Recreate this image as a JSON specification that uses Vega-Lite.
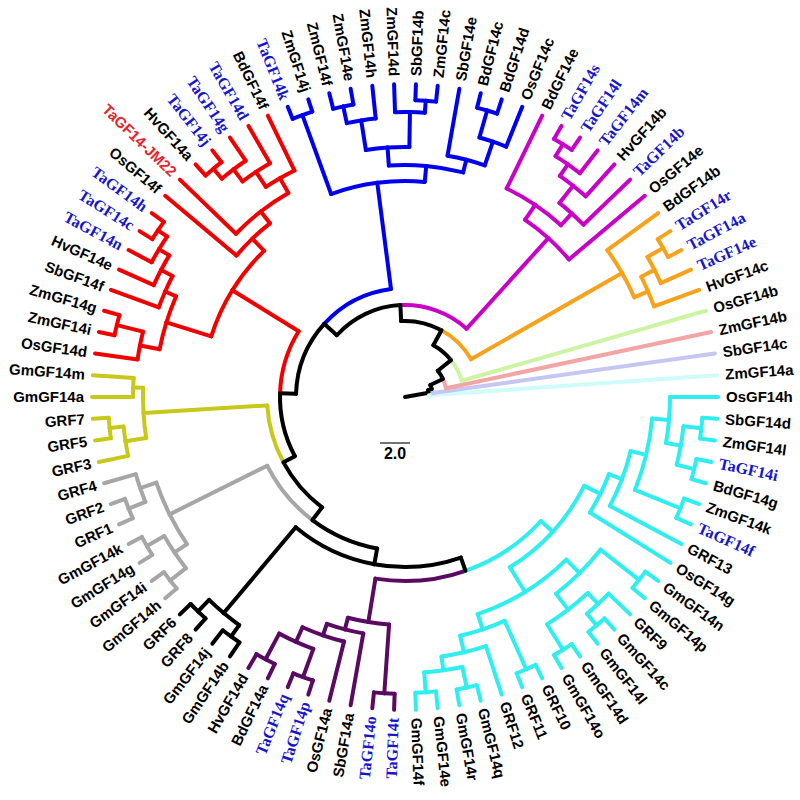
{
 "$schema": "https://vega.github.io/schema/vega-lite/v6.json",
 "width": 790,
 "height": 794,
 "autosize": {"type": "none"},
 "padding": {"left": 10, "top": 0, "right": 0, "bottom": 6},
 "background": "white",
 "config": {"view": {"stroke": null}},
 "datasets": {
  "tree": [
   {"t":79.67,"r":24,"pt":79.67,"pr":0,"c":"K"},
   {"t":73.34,"r":28,"pt":79.67,"pr":24,"c":"K"},
   {"t":64.67,"r":42,"pt":73.34,"pr":28,"c":"K"},
   {"t":51.34,"r":59,"pt":64.67,"pr":42,"c":"K"},
   {"t":28.69,"r":76,"pt":51.34,"pr":59,"c":"K"},
   {"t":-2.88,"r":92,"pt":28.69,"pr":76,"c":"K"},
   {"t":-47.83,"r":109,"pt":-2.88,"pr":92,"c":"K"},
   {"t":-88.28,"r":125,"pt":-47.83,"pr":109,"c":"K"},
   {"t":241.73,"r":138,"pt":271.72,"pr":125,"c":"K"},
   {"t":216.95,"r":154,"pt":241.73,"pr":138,"c":"K"},
   {"t":190.41,"r":170,"pt":216.95,"pr":154,"c":"K"},
   {"t":160.81,"r":184,"pt":190.41,"pr":170,"c":"K"},

   {"n":"ZmGF14a","lab":"k","t":86,"r":313,"pt":79.67,"pr":24,"c":"LC"},
   {"n":"SbGF14c","lab":"k","t":82,"r":313,"pt":73.34,"pr":28,"c":"L"},
   {"n":"ZmGF14b","lab":"k","t":78,"r":313,"pt":64.67,"pr":42,"c":"P"},
   {"n":"OsGF14b","lab":"k","t":74,"r":313,"pt":51.34,"pr":59,"c":"G"},

   {"t":60.25,"r":250,"pt":28.69,"pr":76,"c":"O"},
   {"n":"BdGF14b","lab":"k","t":54,"r":313,"pt":60.25,"pr":250,"c":"O"},
   {"t":66.5,"r":265,"pt":60.25,"pr":250,"c":"O"},
   {"n":"HvGF14c","lab":"k","t":70,"r":313,"pt":66.5,"pr":265,"c":"O"},
   {"t":63,"r":280,"pt":66.5,"pr":265,"c":"O"},
   {"n":"TaGF14e","lab":"b","t":66,"r":313,"pt":63,"pr":280,"c":"O"},
   {"t":60,"r":298,"pt":63,"pr":280,"c":"O"},
   {"n":"TaGF14r","lab":"b","t":58,"r":313,"pt":60,"pr":298,"c":"O"},
   {"n":"TaGF14a","lab":"b","t":62,"r":313,"pt":60,"pr":298,"c":"O"},

   {"t":42.06,"r":214,"pt":-2.88,"pr":92,"c":"M"},
   {"n":"OsGF14e","lab":"k","t":50,"r":313,"pt":42.06,"pr":214,"c":"M"},
   {"t":34.13,"r":232,"pt":42.06,"pr":214,"c":"M"},
   {"n":"BdGF14e","lab":"k","t":26,"r":313,"pt":34.13,"pr":232,"c":"M"},
   {"t":42.25,"r":248,"pt":34.13,"pr":232,"c":"M"},
   {"n":"TaGF14b","lab":"b","t":46,"r":313,"pt":42.25,"pr":248,"c":"M"},
   {"t":38.5,"r":270,"pt":42.25,"pr":248,"c":"M"},
   {"n":"HvGF14b","lab":"k","t":42,"r":313,"pt":38.5,"pr":270,"c":"M"},
   {"t":35,"r":284,"pt":38.5,"pr":270,"c":"M"},
   {"n":"TaGF14m","lab":"b","t":38,"r":313,"pt":35,"pr":284,"c":"M"},
   {"t":32,"r":298,"pt":35,"pr":284,"c":"M"},
   {"n":"TaGF14s","lab":"b","t":30,"r":313,"pt":32,"pr":298,"c":"M"},
   {"n":"TaGF14l","lab":"b","t":34,"r":313,"pt":32,"pr":298,"c":"M"},

   {"t":-7.375,"r":216,"pt":-47.83,"pr":109,"c":"B"},
   {"t":-20,"r":300,"pt":-7.375,"pr":216,"c":"B"},
   {"n":"TaGF14k","lab":"b","t":-22,"r":313,"pt":-20,"pr":300,"c":"B"},
   {"n":"ZmGF14j","lab":"k","t":-18,"r":313,"pt":-20,"pr":300,"c":"B"},
   {"t":5.25,"r":232,"pt":-7.375,"pr":216,"c":"B"},
   {"t":-4,"r":250,"pt":5.25,"pr":232,"c":"B"},
   {"t":-9,"r":280,"pt":-4,"pr":250,"c":"B"},
   {"n":"ZmGF14h","lab":"k","t":-6,"r":313,"pt":-9,"pr":280,"c":"B"},
   {"t":-12,"r":297,"pt":-9,"pr":280,"c":"B"},
   {"n":"ZmGF14f","lab":"k","t":-14,"r":313,"pt":-12,"pr":297,"c":"B"},
   {"n":"ZmGF14e","lab":"k","t":-10,"r":313,"pt":-12,"pr":297,"c":"B"},
   {"t":1,"r":285,"pt":-4,"pr":250,"c":"B"},
   {"n":"ZmGF14d","lab":"k","t":-2,"r":313,"pt":1,"pr":285,"c":"B"},
   {"t":4,"r":297,"pt":1,"pr":285,"c":"B"},
   {"n":"SbGF14b","lab":"k","t":2,"r":313,"pt":4,"pr":297,"c":"B"},
   {"n":"ZmGF14c","lab":"k","t":6,"r":313,"pt":4,"pr":297,"c":"B"},
   {"t":14.5,"r":245,"pt":5.25,"pr":232,"c":"B"},
   {"n":"SbGF14e","lab":"k","t":10,"r":313,"pt":14.5,"pr":245,"c":"B"},
   {"t":19,"r":270,"pt":14.5,"pr":245,"c":"B"},
   {"n":"OsGF14c","lab":"k","t":22,"r":313,"pt":19,"pr":270,"c":"B"},
   {"t":16,"r":298,"pt":19,"pr":270,"c":"B"},
   {"n":"BdGF14c","lab":"k","t":14,"r":313,"pt":16,"pr":298,"c":"B"},
   {"n":"BdGF14d","lab":"k","t":18,"r":313,"pt":16,"pr":298,"c":"B"},

   {"t":301.72,"r":203,"pt":271.72,"pr":125,"c":"R"},
   {"t":287.38,"r":250,"pt":301.72,"pr":203,"c":"R"},
   {"t":281,"r":270,"pt":287.38,"pr":250,"c":"R"},
   {"n":"OsGF14d","lab":"k","t":278,"r":313,"pt":281,"pr":270,"c":"R"},
   {"t":284,"r":297,"pt":281,"pr":270,"c":"R"},
   {"n":"ZmGF14i","lab":"k","t":282,"r":313,"pt":284,"pr":297,"c":"R"},
   {"n":"ZmGF14g","lab":"k","t":286,"r":313,"pt":284,"pr":297,"c":"R"},
   {"t":293.75,"r":262,"pt":287.38,"pr":250,"c":"R"},
   {"n":"SbGF14f","lab":"k","t":290,"r":313,"pt":293.75,"pr":262,"c":"R"},
   {"t":297.5,"r":275,"pt":293.75,"pr":262,"c":"R"},
   {"n":"HvGF14e","lab":"k","t":294,"r":313,"pt":297.5,"pr":275,"c":"R"},
   {"t":301,"r":287,"pt":297.5,"pr":275,"c":"R"},
   {"n":"TaGF14n","lab":"b","t":298,"r":313,"pt":301,"pr":287,"c":"R"},
   {"t":304,"r":298,"pt":301,"pr":287,"c":"R"},
   {"n":"TaGF14c","lab":"b","t":302,"r":313,"pt":304,"pr":298,"c":"R"},
   {"n":"TaGF14h","lab":"b","t":306,"r":313,"pt":304,"pr":298,"c":"R"},
   {"t":316.06,"r":220,"pt":301.72,"pr":203,"c":"R"},
   {"n":"OsGF14f","lab":"k","t":310,"r":313,"pt":316.06,"pr":220,"c":"R"},
   {"t":322.13,"r":235,"pt":316.06,"pr":220,"c":"R"},
   {"n":"TaGF14-JM22","lab":"r","t":314,"r":313,"pt":322.13,"pr":235,"c":"R"},
   {"t":330.25,"r":252,"pt":322.13,"pr":235,"c":"R"},
   {"n":"BdGF14f","lab":"k","t":334,"r":313,"pt":330.25,"pr":252,"c":"R"},
   {"t":326.5,"r":270,"pt":330.25,"pr":252,"c":"R"},
   {"n":"TaGF14d","lab":"b","t":330,"r":313,"pt":326.5,"pr":270,"c":"R"},
   {"t":323,"r":285,"pt":326.5,"pr":270,"c":"R"},
   {"n":"TaGF14g","lab":"b","t":326,"r":313,"pt":323,"pr":285,"c":"R"},
   {"t":320,"r":298,"pt":323,"pr":285,"c":"R"},
   {"n":"HvGF14a","lab":"k","t":318,"r":313,"pt":320,"pr":298,"c":"R"},
   {"n":"TaGF14j","lab":"b","t":322,"r":313,"pt":320,"pr":298,"c":"R"},

   {"t":266.5,"r":262,"pt":241.73,"pr":138,"c":"Y"},
   {"t":261,"r":283,"pt":266.5,"pr":262,"c":"Y"},
   {"n":"GRF3","lab":"k","t":258,"r":313,"pt":261,"pr":283,"c":"Y"},
   {"t":264,"r":297,"pt":261,"pr":283,"c":"Y"},
   {"n":"GRF5","lab":"k","t":262,"r":313,"pt":264,"pr":297,"c":"Y"},
   {"n":"GRF7","lab":"k","t":266,"r":313,"pt":264,"pr":297,"c":"Y"},
   {"t":272,"r":272,"pt":266.5,"pr":262,"c":"Y"},
   {"n":"GmGF14a","lab":"k","t":270,"r":313,"pt":272,"pr":272,"c":"Y"},
   {"n":"GmGF14m","lab":"k","t":274,"r":313,"pt":272,"pr":272,"c":"Y"},

   {"t":243.5,"r":263,"pt":216.95,"pr":154,"c":"GR"},
   {"t":236,"r":278,"pt":243.5,"pr":263,"c":"GR"},
   {"t":232,"r":298,"pt":236,"pr":278,"c":"GR"},
   {"n":"GmGF14h","lab":"k","t":230,"r":313,"pt":232,"pr":298,"c":"GR"},
   {"n":"GmGF14i","lab":"k","t":234,"r":313,"pt":232,"pr":298,"c":"GR"},
   {"t":240,"r":298,"pt":236,"pr":278,"c":"GR"},
   {"n":"GmGF14g","lab":"k","t":238,"r":313,"pt":240,"pr":298,"c":"GR"},
   {"n":"GmGF14k","lab":"k","t":242,"r":313,"pt":240,"pr":298,"c":"GR"},
   {"t":251,"r":280,"pt":243.5,"pr":263,"c":"GR"},
   {"n":"GRF4","lab":"k","t":254,"r":313,"pt":251,"pr":280,"c":"GR"},
   {"t":248,"r":298,"pt":251,"pr":280,"c":"GR"},
   {"n":"GRF1","lab":"k","t":246,"r":313,"pt":248,"pr":298,"c":"GR"},
   {"n":"GRF2","lab":"k","t":250,"r":313,"pt":248,"pr":298,"c":"GR"},

   {"t":220,"r":282,"pt":190.41,"pr":170,"c":"K"},
   {"t":216,"r":296,"pt":220,"pr":282,"c":"K"},
   {"n":"GmGF14b","lab":"k","t":214,"r":313,"pt":216,"pr":296,"c":"K"},
   {"n":"GmGF14j","lab":"k","t":218,"r":313,"pt":216,"pr":296,"c":"K"},
   {"t":224,"r":298,"pt":220,"pr":282,"c":"K"},
   {"n":"GRF8","lab":"k","t":222,"r":313,"pt":224,"pr":298,"c":"K"},
   {"n":"GRF6","lab":"k","t":226,"r":313,"pt":224,"pr":298,"c":"K"},

   {"t":189.25,"r":228,"pt":160.81,"pr":184,"c":"PU"},
   {"t":184,"r":297,"pt":189.25,"pr":228,"c":"PU"},
   {"n":"TaGF14t","lab":"b","t":182,"r":313,"pt":184,"pr":297,"c":"PU"},
   {"n":"TaGF14o","lab":"b","t":186,"r":313,"pt":184,"pr":297,"c":"PU"},
   {"t":194.5,"r":240,"pt":189.25,"pr":228,"c":"PU"},
   {"n":"SbGF14a","lab":"k","t":190,"r":313,"pt":194.5,"pr":240,"c":"PU"},
   {"t":199,"r":252,"pt":194.5,"pr":240,"c":"PU"},
   {"n":"OsGF14a","lab":"k","t":194,"r":313,"pt":199,"pr":252,"c":"PU"},
   {"t":204,"r":268,"pt":199,"pr":252,"c":"PU"},
   {"t":200,"r":298,"pt":204,"pr":268,"c":"PU"},
   {"n":"TaGF14p","lab":"b","t":198,"r":313,"pt":200,"pr":298,"c":"PU"},
   {"n":"TaGF14q","lab":"b","t":202,"r":313,"pt":200,"pr":298,"c":"PU"},
   {"t":208,"r":297,"pt":204,"pr":268,"c":"PU"},
   {"n":"BdGF14a","lab":"k","t":206,"r":313,"pt":208,"pr":297,"c":"PU"},
   {"n":"HvGF14d","lab":"k","t":210,"r":313,"pt":208,"pr":297,"c":"PU"},

   {"t":132.38,"r":200,"pt":160.81,"pr":184,"c":"C"},
   {"t":116.38,"r":218,"pt":132.38,"pr":200,"c":"C"},
   {"n":"OsGF14g","lab":"k","t":122,"r":313,"pt":116.38,"pr":218,"c":"C"},
   {"t":110.75,"r":232,"pt":116.38,"pr":218,"c":"C"},
   {"n":"GRF13","lab":"k","t":118,"r":313,"pt":110.75,"pr":232,"c":"C"},
   {"t":103.5,"r":248,"pt":110.75,"pr":232,"c":"C"},
   {"t":112,"r":297,"pt":103.5,"pr":248,"c":"C"},
   {"n":"ZmGF14k","lab":"k","t":110,"r":313,"pt":112,"pr":297,"c":"C"},
   {"n":"TaGF14f","lab":"b","t":114,"r":313,"pt":112,"pr":297,"c":"C"},
   {"t":95,"r":265,"pt":103.5,"pr":248,"c":"C"},
   {"n":"OsGF14h","lab":"k","t":90,"r":313,"pt":95,"pr":265,"c":"C"},
   {"t":100,"r":280,"pt":95,"pr":265,"c":"C"},
   {"t":96,"r":298,"pt":100,"pr":280,"c":"C"},
   {"n":"SbGF14d","lab":"k","t":94,"r":313,"pt":96,"pr":298,"c":"C"},
   {"n":"ZmGF14l","lab":"k","t":98,"r":313,"pt":96,"pr":298,"c":"C"},
   {"t":104,"r":298,"pt":100,"pr":280,"c":"C"},
   {"n":"TaGF14i","lab":"b","t":102,"r":313,"pt":104,"pr":298,"c":"C"},
   {"n":"BdGF14g","lab":"k","t":106,"r":313,"pt":104,"pr":298,"c":"C"},
   {"t":148.38,"r":229,"pt":132.38,"pr":200,"c":"C"},
   {"t":135.25,"r":248,"pt":148.38,"pr":229,"c":"C"},
   {"t":128,"r":297,"pt":135.25,"pr":248,"c":"C"},
   {"n":"GmGF14n","lab":"k","t":126,"r":313,"pt":128,"pr":297,"c":"C"},
   {"n":"GmGF14p","lab":"k","t":130,"r":313,"pt":128,"pr":297,"c":"C"},
   {"t":142.5,"r":268,"pt":135.25,"pr":248,"c":"C"},
   {"t":137,"r":283,"pt":142.5,"pr":268,"c":"C"},
   {"n":"GRF9","lab":"k","t":134,"r":313,"pt":137,"pr":283,"c":"C"},
   {"t":140,"r":298,"pt":137,"pr":283,"c":"C"},
   {"n":"GmGF14c","lab":"k","t":138,"r":313,"pt":140,"pr":298,"c":"C"},
   {"n":"GmGF14l","lab":"k","t":142,"r":313,"pt":140,"pr":298,"c":"C"},
   {"t":148,"r":298,"pt":142.5,"pr":268,"c":"C"},
   {"n":"GmGF14d","lab":"k","t":146,"r":313,"pt":148,"pr":298,"c":"C"},
   {"n":"GmGF14o","lab":"k","t":150,"r":313,"pt":148,"pr":298,"c":"C"},
   {"t":161.5,"r":245,"pt":148.38,"pr":229,"c":"C"},
   {"t":156,"r":298,"pt":161.5,"pr":245,"c":"C"},
   {"n":"GRF10","lab":"k","t":154,"r":313,"pt":156,"pr":298,"c":"C"},
   {"n":"GRF11","lab":"k","t":158,"r":313,"pt":156,"pr":298,"c":"C"},
   {"t":167,"r":262,"pt":161.5,"pr":245,"c":"C"},
   {"n":"GRF12","lab":"k","t":162,"r":313,"pt":167,"pr":262,"c":"C"},
   {"t":172,"r":276,"pt":167,"pr":262,"c":"C"},
   {"t":168,"r":297,"pt":172,"pr":276,"c":"C"},
   {"n":"GmGF14q","lab":"k","t":166,"r":313,"pt":168,"pr":297,"c":"C"},
   {"n":"GmGF14r","lab":"k","t":170,"r":313,"pt":168,"pr":297,"c":"C"},
   {"t":176,"r":296,"pt":172,"pr":276,"c":"C"},
   {"n":"GmGF14e","lab":"k","t":174,"r":313,"pt":176,"pr":296,"c":"C"},
   {"n":"GmGF14f","lab":"k","t":178,"r":313,"pt":176,"pr":296,"c":"C"}
  ],
  "bar": [{"x1": -25, "x2": 5, "y": -46, "tx": -10, "ty": -57, "lab": "2.0"}]
 },
 "layer": [
  {
   "data": {"name": "tree"},
   "mark": {"type": "arc", "filled": false, "strokeWidth": 4, "strokeJoin": "round"},
   "encoding": {
    "theta": {"field": "pt", "type": "quantitative", "stack": null, "scale": {"type": "linear", "domain": [0, 360], "range": [0, 6.283185307179586]}},
    "theta2": {"field": "t"},
    "radius": {"field": "pr", "type": "quantitative", "stack": null, "scale": {"type": "linear", "domain": [0, 395], "range": [0, 395], "zero": true}},
    "radius2": {"field": "pr"},
    "stroke": {"field": "c", "type": "nominal", "legend": null,
     "scale": {"domain": ["K","B","M","O","G","P","L","LC","C","PU","GR","Y","R"],
               "range": ["#000000","#0000f0","#c800c8","#f7a21b","#cbf5a3","#f3a4a4","#c6c6f3","#cffbfb","#2eeef0","#5a0a60","#a6a6a6","#c8c81a","#f20000"]}}
   }
  },
  {
   "data": {"name": "tree"},
   "mark": {"type": "arc", "filled": false, "strokeWidth": 4, "strokeJoin": "round"},
   "encoding": {
    "theta": {"field": "t", "type": "quantitative", "stack": null},
    "theta2": {"field": "t"},
    "radius": {"field": "r", "type": "quantitative", "stack": null},
    "radius2": {"field": "pr"},
    "stroke": {"field": "c", "type": "nominal", "legend": null}
   }
  },
  {
   "data": {"name": "tree"},
   "transform": [{"filter": "isValid(datum.n) && datum.lab != 'b' && datum.t > 0 && datum.t < 180"}],
   "mark": {"type": "text", "align": "left", "baseline": "middle", "font": "Liberation Sans", "fontSize": 15, "fontWeight": "bold"},
   "encoding": {
    "theta": {"field": "t", "type": "quantitative", "stack": null},
    "radius": {"datum": 321},
    "text": {"field": "n"},
    "angle": {"field": "t", "type": "quantitative", "scale": {"domain": [0, 180], "range": [-90, 90]}},
    "color": {"field": "lab", "type": "nominal", "legend": null, "scale": {"domain": ["k", "r"], "range": ["#000000", "#e8232a"]}}
   }
  },
  {
   "data": {"name": "tree"},
   "transform": [{"filter": "isValid(datum.n) && datum.lab != 'b' && (datum.t < 0 || datum.t > 180)"}],
   "mark": {"type": "text", "align": "right", "baseline": "middle", "font": "Liberation Sans", "fontSize": 15, "fontWeight": "bold"},
   "encoding": {
    "theta": {"field": "t", "type": "quantitative", "stack": null},
    "radius": {"datum": 321},
    "text": {"field": "n"},
    "angle": {"field": "t", "type": "quantitative", "scale": {"domain": [180, 360], "range": [-90, 90]}},
    "color": {"field": "lab", "type": "nominal", "legend": null}
   }
  },
  {
   "data": {"name": "tree"},
   "transform": [{"filter": "datum.lab == 'b' && datum.t > 0 && datum.t < 180"}],
   "mark": {"type": "text", "align": "left", "baseline": "middle", "font": "Liberation Serif", "fontSize": 16, "fontWeight": "bold", "color": "#1616cc"},
   "encoding": {
    "theta": {"field": "t", "type": "quantitative", "stack": null},
    "radius": {"datum": 321},
    "text": {"field": "n"},
    "angle": {"field": "t", "type": "quantitative", "scale": {"domain": [0, 180], "range": [-90, 90]}}
   }
  },
  {
   "data": {"name": "tree"},
   "transform": [{"filter": "datum.lab == 'b' && (datum.t < 0 || datum.t > 180)"}],
   "mark": {"type": "text", "align": "right", "baseline": "middle", "font": "Liberation Serif", "fontSize": 16, "fontWeight": "bold", "color": "#1616cc"},
   "encoding": {
    "theta": {"field": "t", "type": "quantitative", "stack": null},
    "radius": {"datum": 321},
    "text": {"field": "n"},
    "angle": {"field": "t", "type": "quantitative", "scale": {"domain": [180, 360], "range": [-90, 90]}}
   }
  },
  {
   "data": {"name": "bar"},
   "mark": {"type": "rule", "strokeWidth": 1.5, "color": "#444444"},
   "encoding": {
    "x": {"field": "x1", "type": "quantitative", "axis": null, "scale": {"domain": [-395, 395], "nice": false, "zero": false}},
    "x2": {"field": "x2"},
    "y": {"field": "y", "type": "quantitative", "axis": null, "scale": {"domain": [-397, 397], "nice": false, "zero": false}}
   }
  },
  {
   "data": {"name": "bar"},
   "mark": {"type": "text", "font": "Liberation Sans", "fontSize": 16, "fontWeight": "bold", "color": "#000000", "baseline": "middle"},
   "encoding": {
    "x": {"field": "tx", "type": "quantitative", "axis": null},
    "y": {"field": "ty", "type": "quantitative", "axis": null},
    "text": {"field": "lab"}
   }
  }
 ],
 "resolve": {"scale": {"angle": "independent"}}
}
